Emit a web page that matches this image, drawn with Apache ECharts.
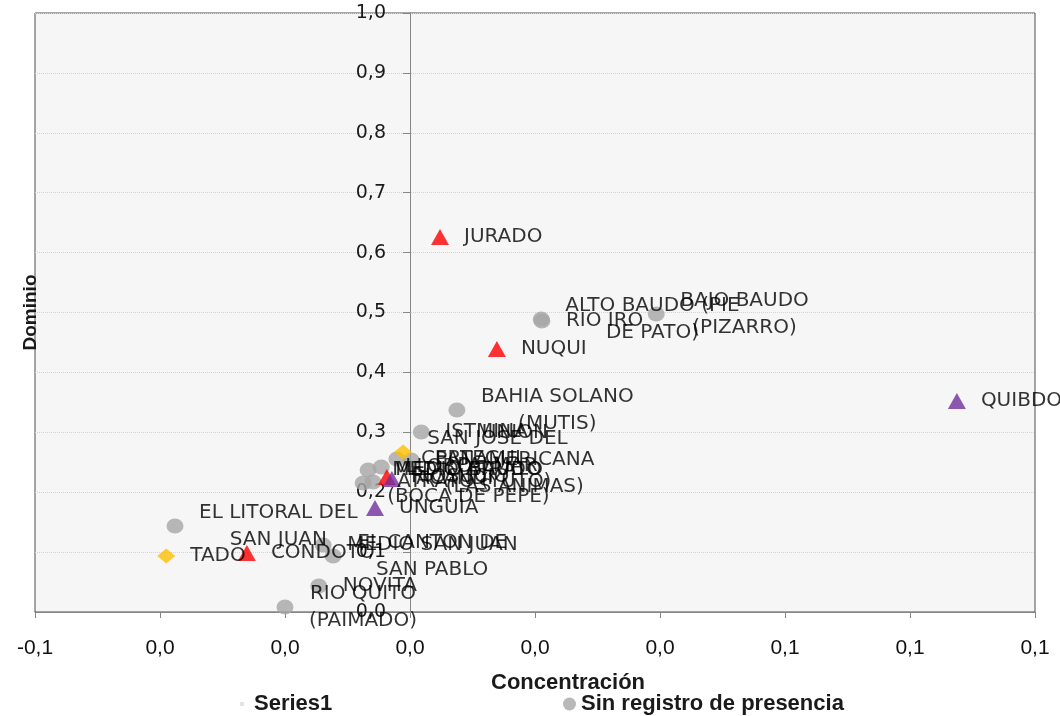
<!DOCTYPE html>
<html><head><meta charset="utf-8">
<script src="https://cdn.jsdelivr.net/npm/echarts@6/dist/echarts.min.js"></script>
<style>html,body{margin:0;padding:0;background:#fff}#c{width:1060px;height:716px}</style>
</head><body><div id="c"></div>
<script>
// Axis ticks
const xMin = -0.06, xMax = 0.10, xStep = 0.02;
const xTickLabels = ['-0,1','0,0','0,0','0,0','0,0','0,0','0,1','0,1','0,1'];
const yTickLabels = ['0,0','0,1','0,2','0,3','0,4','0,5','0,6','0,7','0,8','0,9','1,0'];

// Sin registro de presencia (gray circles)
const sinNames = ['EL LITORAL DEL\nSAN JUAN','RIO QUITO\n(PAIMADO)','NOVITA','MEDIO SAN JUAN','EL CANTON DE\nSAN PABLO',
  'BAJO BAUDO\n(PIZARRO)','ALTO BAUDO (PIE\nDE PATO)','RIO IRO','BAHIA SOLANO\n(MUTIS)','ISTMINA',
  'UNION\nPANAMERICANA\n(LAS ANIMAS)','MEDIO BAUDO\n(BOCA DE PEPE)','ATRATO (YUTO)','MEDIO ATRATO','CERTEGUI','LLORO'];
const sinX = [-0.0376,-0.0200,-0.0146,-0.0139,-0.0123,0.0394,0.0210,0.0211,0.0075,0.0018,0.0002,-0.0075,-0.0059,-0.0067,-0.0021,-0.0046];
const sinY = [0.1436,0.0083,0.0434,0.1119,0.0935,0.4975,0.4891,0.4858,0.3372,0.3005,0.2538,0.2154,0.2170,0.2371,0.2554,0.2421];

// Yellow diamonds
const yelNames = ['TADO','SAN JOSE DEL\nPALMAR'];
const yelX = [-0.0390,-0.0011];
const yelY = [0.0935,0.2671];

// Red triangles
const redNames = ['JURADO','NUQUI','CONDOTO','RIOSUCIO'];
const redX = [0.0048,0.0139,-0.0261,-0.0037];
const redY = [0.6260,0.4391,0.0985,0.2254];

// Purple triangles
const purNames = ['QUIBDO','UNGUIA','ACANDI'];
const purX = [0.0875,-0.0056,-0.0029];
const purY = [0.3523,0.1736,0.2220];

function pts(names, xs, ys){ return names.map((n,i)=>({name:n, value:[xs[i], ys[i]]})); }
const allPts = [].concat(pts(sinNames,sinX,sinY), pts(yelNames,yelX,yelY), pts(redNames,redX,redY), pts(purNames,purX,purY));

const labelFont = 'DejaVu Sans';
const narrow = '"Liberation Sans Narrow", "Liberation Sans", sans-serif';

const chart = echarts.init(document.getElementById('c'), null, {renderer:'canvas'});
chart.setOption({
  animation: false,
  backgroundColor: '#ffffff',
  grid: {left: 35, top: 13, width: 1000, height: 599, containLabel: false, outerBoundsMode: 'none',
         show: true, backgroundColor: '#f6f6f6', borderColor: '#4d4d4d', borderWidth: 1},
  legend: [
    {left: 230, top: 688, itemWidth: 14, itemHeight: 14, itemGap: 10,
     data: [{name: 'Series1', icon: 'path://M0,0M14,14M5,5L9,5L9,9L5,9Z', itemStyle: {color: '#e3e3e3', opacity: 1}}],
     textStyle: {fontFamily: narrow, fontWeight: 'bold', fontSize: 22, color: '#1a1a1a'}},
    {left: 558, top: 688, itemWidth: 13, itemHeight: 13,
     data: [{name: 'Sin registro de presencia', icon: 'circle'}],
     textStyle: {fontFamily: narrow, fontWeight: 'bold', fontSize: 22, color: '#1a1a1a'}}
  ],
  xAxis: {
    type: 'value', min: xMin, max: xMax, interval: xStep,
    name: 'Concentración', nameLocation: 'middle', nameGap: 60,
    nameTextStyle: {fontFamily: narrow, fontWeight: 'bold', fontSize: 22, color: '#1a1a1a', padding: [0,0,0,66]},
    axisLine: {show: true, onZero: false, lineStyle: {color: '#868686', width: 1}},
    axisTick: {show: true, length: 6, lineStyle: {color: '#868686'}},
    axisLabel: {margin: 26, fontFamily: narrow, fontSize: 21, color: '#111111',
      formatter: v => { const i = Math.round((v - xMin) / xStep); return xTickLabels[i] !== undefined ? xTickLabels[i] : ''; }},
    splitLine: {show: false}
  },
  yAxis: {
    type: 'value', min: 0, max: 1, interval: 0.1, position: 'left', offset: -375,
    name: 'Dominio', nameLocation: 'middle', nameGap: 370, nameRotate: 90,
    nameTextStyle: {fontFamily: narrow, fontWeight: 'bold', fontSize: 19, color: '#1a1a1a'},
    axisLine: {show: true, onZero: false, lineStyle: {color: '#868686', width: 1}},
    axisTick: {show: true, length: 7, lineStyle: {color: '#868686'}},
    axisLabel: {margin: 24, fontFamily: labelFont, fontSize: 19, color: '#1a1a1a',
      formatter: v => { const i = Math.round(v / 0.1); return yTickLabels[i] !== undefined ? yTickLabels[i] : ''; }},
    splitLine: {show: true, lineStyle: {color: '#d4d4d4', type: 'dotted', width: 1}}
  },
  series: [
    {name: 'Sin registro de presencia', type: 'scatter', z: 2, symbol: 'circle', symbolSize: [17,15],
     itemStyle: {color: '#a6a6a6'}, data: pts(sinNames,sinX,sinY)},
    {name: 'Presencia baja', type: 'scatter', z: 2, symbol: 'diamond', symbolSize: [18,15],
     itemStyle: {color: '#ffc000'}, data: pts(yelNames,yelX,yelY)},
    {name: 'Presencia media', type: 'scatter', z: 2, symbol: 'triangle', symbolSize: [18,16],
     itemStyle: {color: '#ff0000'}, data: pts(redNames,redX,redY)},
    {name: 'Presencia alta', type: 'scatter', z: 2, symbol: 'triangle', symbolSize: [18,16],
     itemStyle: {color: '#7030a0'}, data: pts(purNames,purX,purY)},
    {name: 'Series1', type: 'scatter', z: 5, symbol: 'rect', symbolSize: 2,
     itemStyle: {color: 'rgba(0,0,0,0)'},
     label: {show: true, position: 'right', distance: 23,
       formatter: p => p.name.split('\n').map(s => '{c|' + s + '}').join('\n'),
       rich: {c: {align: 'center', fontFamily: labelFont, fontSize: 20, lineHeight: 27, color: '#000000'}}},
     emphasis: {disabled: true},
     data: allPts}
  ]
});
</script></body></html>
